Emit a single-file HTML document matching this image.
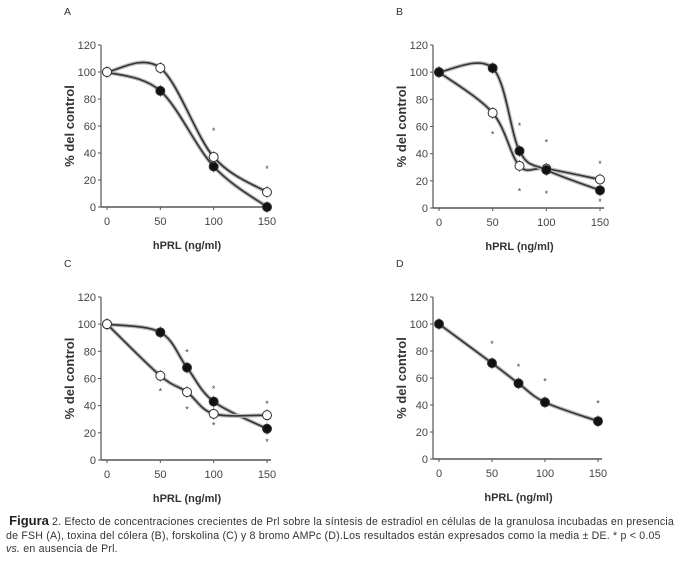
<!DOCTYPE html>
<html><head><meta charset="utf-8">
<style>
body{margin:0;background:#fff;width:679px;height:561px;overflow:hidden;position:relative;font-family:"Liberation Sans",sans-serif}
svg{position:absolute;left:0;top:0}
.cap{position:absolute;left:6px;top:514px;font-size:10.6px;line-height:13.5px;color:#333;letter-spacing:0.2px;white-space:nowrap}
.cap b{font-size:13px;font-weight:bold;color:#222;letter-spacing:0}
</style></head><body>
<svg id="chart" width="679" height="561"></svg>
<div class="cap">&nbsp;<b>Figura</b> 2. Efecto de concentraciones crecientes de Prl sobre la síntesis de estradiol en células de la granulosa incubadas en presencia<br>de FSH (A), toxina del cólera (B), forskolina (C) y 8 bromo AMPc (D).Los resultados están expresados como la media ± DE. * p &lt; 0.05<br><i>vs.</i> en ausencia de Prl.</div>
<script>
const xTicks=[0,50,100,150];
const yTicks=[0,20,40,60,80,100,120];
const aX=[0,50,100,150];
const aOpen=[100,103,37,11];
const aFilled=[100,86,30,0];
const aStars=[[100,57],[150,29]];
const bX=[0,50,75,100,150];
const bFilled=[100,103,42,28,13];
const bOpen=[100,70,31,29,21];
const bStars=[[50,55],[75,61],[75,13],[100,49],[100,11],[150,33],[150,5]];
const cX=[0,50,75,100,150];
const cFilled=[100,94,68,43,23];
const cOpen=[100,62,50,34,33];
const cStars=[[50,51],[75,80],[75,38],[100,53],[100,26],[150,42],[150,14]];
const dX=[0,50,75,100,150];
const dFilled=[100,71,56,42,28];
const dStars=[[50,86],[75,69],[100,58],[150,42]];

const svg=document.getElementById('chart');
const NS='http://www.w3.org/2000/svg';
function mk(t,a){const e=document.createElementNS(NS,t);for(const k in a)e.setAttribute(k,a[k]);svg.appendChild(e);return e;}
function txt(x,y,s,a){const e=mk('text',Object.assign({x:x,y:y},a));e.textContent=s;return e;}
function spline(p){let d='M'+p[0][0]+','+p[0][1];for(let i=0;i<p.length-1;i++){const p0=p[i-1]||p[i],p1=p[i],p2=p[i+1],p3=p[i+2]||p2;
d+=' C'+(p1[0]+(p2[0]-p0[0])/6)+','+(p1[1]+(p2[1]-p0[1])/6)+' '+(p2[0]-(p3[0]-p1[0])/6)+','+(p2[1]-(p3[1]-p1[1])/6)+' '+p2[0]+','+p2[1];}return d;}
function panel(id,letter,x0,x150,y0,y120,xs,series,stars){
  const sx=v=>x0+(x150-x0)*v/150, sy=v=>y0-(y0-y120)*v/120;
  const ax=x0-6;
  let e=txt(ax-37,y120-30,letter,{'font-size':10.5,fill:'#333'});
  
  e=mk('line',{x1:ax,y1:y120,x2:ax,y2:y0,stroke:'#555','stroke-width':1.2});
  
  e=mk('line',{x1:ax,y1:y0,x2:x150+4,y2:y0,stroke:'#555','stroke-width':1.4});
  
  yTicks.forEach(v=>{mk('line',{x1:ax-3,y1:sy(v),x2:ax,y2:sy(v),stroke:'#555'});
    e=txt(ax-5,sy(v)+4,v,{'font-size':11,fill:'#444','text-anchor':'end'});
    });
  xTicks.forEach(v=>{mk('line',{x1:sx(v),y1:y0,x2:sx(v),y2:y0+3,stroke:'#555'});
    e=txt(sx(v),y0+18,v,{'font-size':11,fill:'#444','text-anchor':'middle'});
    });
  e=txt((x0+x150)/2,y0+42,'hPRL (ng/ml)',{'font-size':11,'font-weight':'bold',fill:'#333','text-anchor':'middle'});
  
  const ty=(y0+y120)/2, tx=ax-27;
  e=txt(tx,ty,'% del control',{'font-size':13,'font-weight':'bold',fill:'#333','text-anchor':'middle',transform:'rotate(-90 '+tx+' '+ty+')'});
  
  series.forEach(s=>{
    const pts=xs.map((x,i)=>[sx(x),sy(s.v[i])]);
    const d=spline(pts);
    mk('path',{d:d,fill:'none',stroke:'#bbb','stroke-width':4});
    e=mk('path',{d:d,fill:'none',stroke:'#333','stroke-width':1.6});
    
    pts.forEach(p=>{mk('line',{x1:p[0],y1:p[1]-6,x2:p[0],y2:p[1]+6,stroke:'#666','stroke-width':0.8});
      e=mk('circle',{cx:p[0],cy:p[1],r:4.5,fill:s.f,stroke:'#333','stroke-width':1});
      });
  });
  stars.forEach(s=>{e=txt(sx(s[0]),sy(s[1])+4,'*',{'font-size':9,fill:'#444','text-anchor':'middle'});
    });
}
panel('a','A',107,267,207,45,aX,[{n:'filled',v:aFilled,f:'#111'},{n:'open',v:aOpen,f:'#fff'}],aStars);
panel('b','B',439,600,208,45,bX,[{n:'open',v:bOpen,f:'#fff'},{n:'filled',v:bFilled,f:'#111'}],bStars);
panel('c','C',107,267,460,297,cX,[{n:'filled',v:cFilled,f:'#111'},{n:'open',v:cOpen,f:'#fff'}],cStars);
panel('d','D',439,598,459,297,dX,[{n:'filled',v:dFilled,f:'#111'}],dStars);
</script>
</body></html>
